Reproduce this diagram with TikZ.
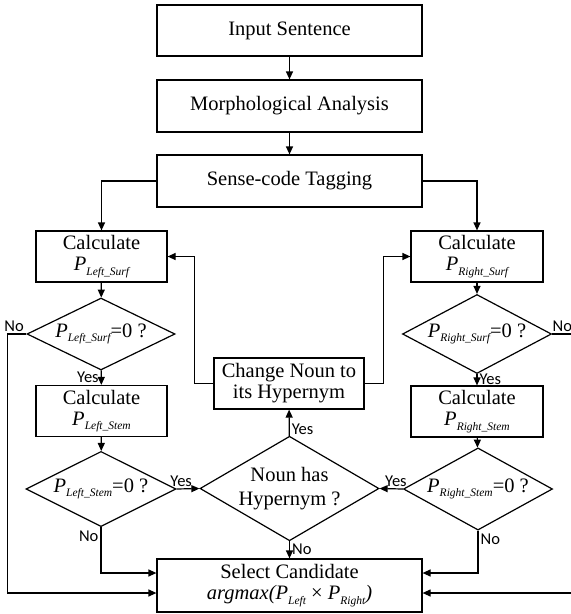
\documentclass[tikz,border=0pt]{standalone}
\usepackage{fontspec}
\setmainfont{Liberation Serif}
\newfontfamily\labelfont{Carlito}
\usetikzlibrary{shapes.geometric,arrows.meta}

\newcommand{\subtxt}[1]{\raisebox{-0.22em}{\fontsize{11.5}{11.5}\selectfont\itshape #1}}

\begin{document}
\begin{tikzpicture}[
            x=1pt, y=-1pt,
            boxnode/.style={rectangle, draw=black, line width=1.2pt, minimum width=265pt, minimum height=51pt, inner sep=0pt, align=center, font=\fontsize{20.5}{21}\selectfont},
            calcnode/.style={boxnode, minimum width=131pt},
            decisionnode/.style={diamond, draw=black, line width=1.2pt, inner sep=-10pt, minimum width=149pt, minimum height=56pt, align=center, font=\fontsize{20.5}{24}\selectfont},
            labelnode/.style={font=\labelfont\fontsize{16.5}{16.5}\selectfont, inner sep=2pt},
            flow/.style={draw=black, line width=1.2pt, -{Triangle[length=8pt,width=7pt]}}
          ]
          \useasboundingbox (0,0) rectangle (571,614);

          %Nodes
          \node[boxnode] at (289.5,30.5) (input) {Input Sentence};
          \node[boxnode, minimum height=52pt] at (289.5,106) (morph) {Morphological Analysis};
          \node[boxnode, minimum height=52pt] at (289.5,181) (sense) {Sense-code Tagging};
          \node[calcnode] at (101.5,256.5) (calcLS) {Calculate\\\textit{P}\subtxt{Left\_Surf}};
          \node[calcnode, minimum width=132pt] at (477,256.5) (calcRS) {Calculate\\\textit{P}\subtxt{Right\_Surf}};
          \node[decisionnode, minimum width=148pt] at (101,334) (decLS) {\textit{P}\subtxt{Left\_Surf}=0 ?};
          \node[decisionnode] at (477,334) (decRS) {\textit{P}\subtxt{Right\_Surf}=0 ?};
          \node[calcnode] at (101.5,411) (calcLT) {Calculate\\\textit{P}\subtxt{Left\_Stem}};
          \node[calcnode, minimum width=132pt] at (477,411.5) (calcRT) {Calculate\\\textit{P}\subtxt{Right\_Stem}};
          \node[decisionnode, minimum width=150pt, minimum height=55pt] at (101,489) (decLT) {\textit{P}\subtxt{Left\_Stem}=0 ?};
          \node[decisionnode] at (478,489) (decRT) {\textit{P}\subtxt{Right\_Stem}=0 ?};
          \node[decisionnode, minimum width=179pt, minimum height=83pt] at (289.5,488.5) (noun) {Noun has\\Hypernym ?};
          \node[calcnode, minimum width=150pt] at (289,383.5) (change) {Change Noun to\\its Hypernym};
          \node[boxnode, minimum height=53pt] at (289.5,585.5) (select) {Select Candidate\\\textit{argmax(P}\subtxt{Left} × \textit{P}\subtxt{Right}\textit{)}};

          %Lines
          \draw[flow] (input) -- (morph);
          \draw[flow] (morph) -- (sense);
          \draw[flow] (sense.west) -| (calcLS);
          \draw[flow] (sense.east) -| (calcRS);
          \draw[flow] (calcLS) -- (decLS);
          \draw[flow] (calcRS) -- (decRS);
          \draw[flow] (decLS) -- (calcLT) node[labelnode, midway, left] {Yes};
          \draw[flow] (decRS) -- (calcRT) node[labelnode, midway, right] {Yes};
          \draw[flow] (calcLT) -- (decLT);
          \draw[flow] (calcRT) -- (decRT);
          \draw[flow] (decLT.east) -- (noun.west) node[labelnode, pos=0.2, above] {Yes};
          \draw[flow] (decRT.west) -- (noun.east) node[labelnode, pos=0.3, above] {Yes};
          \draw[flow] (noun) -- (change) node[labelnode, pos=0.25, right] {Yes};
          \draw[flow] (noun) -- (select) node[labelnode, pos=0.45, right] {No};
          \draw[flow] (change.west) -- ++(-19,0) |- (calcLS.east);
          \draw[flow] (change.east) -- ++(19,0) |- (calcRS.west);
          \draw[flow] (decLT.south) |- node[labelnode, pos=0.1, left] {No} ([yshift=12.5pt]select.west);
          \draw[flow] (decRT.south) |- node[labelnode, pos=0.1, right] {No} ([yshift=12.5pt]select.east);
          \draw[flow] (decLS.west) node[labelnode, above left] {No} -- ++(-19,0) |- ([yshift=-7.5pt]select.west);
          \draw[flow] (decRS.east) node[labelnode, above right, inner xsep=0pt] {No} -- ++(19,0) |- ([yshift=-7.5pt]select.east);

        \end{tikzpicture}
\end{document}
